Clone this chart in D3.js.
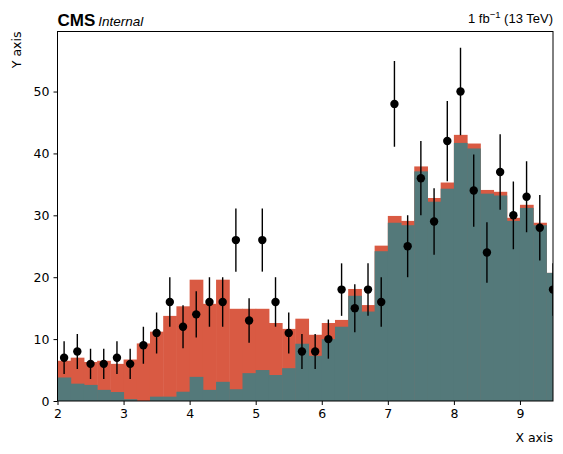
<!DOCTYPE html>
<html>
<head>
<meta charset="utf-8">
<script src="https://cdn.jsdelivr.net/npm/d3@7"></script>
<style>
  body { margin: 0; background: #fff; }
  text { font-family: "DejaVu Sans", sans-serif; }
</style>
</head>
<body>
<div class="chart"></div>
<script>
// bin lower edges (width 0.2)
var binEdges = [2.0, 2.2, 2.4, 2.6, 2.8, 3.0, 3.2, 3.4, 3.6, 3.8, 4.0, 4.2, 4.4, 4.6, 4.8, 5.0, 5.2, 5.4, 5.6, 5.8,
                6.0, 6.2, 6.4, 6.6, 6.8, 7.0, 7.2, 7.4, 7.6, 7.8, 8.0, 8.2, 8.4, 8.6, 8.8, 9.0, 9.2, 9.4];
var binWidth = 0.2;
// background 1 (teal, bottom of stack)
var bkgTeal = [3.8, 2.8, 2.6, 1.8, 1.45, 0.3, 0.0, 0.7, 0.7, 1.5, 3.9, 1.8, 3.1, 1.9, 4.5, 5.0, 4.2, 5.3, 9.25, 7.3,
               10.0, 12.0, 17.0, 14.45, 24.2, 28.8, 28.4, 37.1, 32.2, 34.3, 41.7, 40.8, 33.5, 33.2, 29.1, 31.2, 28.4, 20.7];
// background 2 (red, stacked on top)
var bkgRed = [2.7, 4.2, 3.7, 4.7, 4.55, 6.4, 9.3, 10.5, 13.05, 13.8, 15.7, 13.9, 16.5, 13.0, 10.4, 9.9, 8.4, 6.35, 4.05, 3.4,
              2.6, 1.1, 1.1, 1.05, 0.9, 1.1, 0.7, 0.8, 0.6, 1.0, 1.3, 0.8, 0.6, 0.6, 0.5, 0.5, 0.4, 0.0];
// observed data counts
var dataCounts = [7, 8, 6, 6, 7, 6, 9, 11, 16, 12, 14, 16, 16, 26, 13, 26, 16, 11, 8, 8,
                  10, 18, 15, 18, 16, 48, 25, 36, 29, 42, 50, 34, 24, 37, 30, 33, 28, 18];
var xTicks = [2, 3, 4, 5, 6, 7, 8, 9];
var yTicks = [0, 10, 20, 30, 40, 50];

function init() {
    var w = 563, h = 454;
    var left = 57.5, right = 553, top = 31.5, bottom = 401;

    var svg = d3.select(".chart").append("svg")
        .attr("width", w)
        .attr("height", h);

    var xScale = d3.scaleLinear().domain([2, 9.5]).range([left, right]);
    var yScale = d3.scaleLinear().domain([0, 59.7]).range([bottom, top]);

    svg.append("clipPath").attr("id", "clip")
        .append("rect")
        .attr("x", left).attr("y", top)
        .attr("width", right - left).attr("height", bottom - top);

    var plot = svg.append("g").attr("clip-path", "url(#clip)");

    var bins = binEdges.map(function(lo, i) {
        return { lo: lo, hi: lo + binWidth, teal: bkgTeal[i], red: bkgRed[i], n: dataCounts[i] };
    });

    // stacked histograms, red first (total) then teal over it
    plot.selectAll(".red").data(bins).enter().append("rect")
        .attr("class", "red")
        .attr("x", function(d) { return xScale(d.lo); })
        .attr("width", function(d) { return xScale(d.hi) - xScale(d.lo) + 0.5; })
        .attr("y", function(d) { return yScale(d.teal + d.red); })
        .attr("height", function(d) { return yScale(0) - yScale(d.teal + d.red); })
        .attr("fill", "#d95a43");

    plot.selectAll(".teal").data(bins).enter().append("rect")
        .attr("class", "teal")
        .attr("x", function(d) { return xScale(d.lo); })
        .attr("width", function(d) { return xScale(d.hi) - xScale(d.lo) + 0.5; })
        .attr("y", function(d) { return yScale(d.teal); })
        .attr("height", function(d) { return yScale(0) - yScale(d.teal); })
        .attr("fill", "#54797a");

    // data error bars (sqrt N)
    plot.selectAll(".err").data(bins).enter().append("line")
        .attr("class", "err")
        .attr("x1", function(d) { return xScale(d.lo + binWidth / 2); })
        .attr("x2", function(d) { return xScale(d.lo + binWidth / 2); })
        .attr("y1", function(d) { return yScale(d.n - Math.sqrt(d.n)); })
        .attr("y2", function(d) { return yScale(d.n + Math.sqrt(d.n)); })
        .attr("stroke", "#000")
        .attr("stroke-width", 1.4);

    plot.selectAll(".dot").data(bins).enter().append("circle")
        .attr("class", "dot")
        .attr("cx", function(d) { return xScale(d.lo + binWidth / 2); })
        .attr("cy", function(d) { return yScale(d.n); })
        .attr("r", 4.2)
        .attr("fill", "#000");

    // axes
    var xAxis = d3.axisBottom(xScale).tickValues(xTicks).tickSize(4).tickPadding(4).tickFormat(d3.format("d"));
    var yAxis = d3.axisLeft(yScale).tickValues(yTicks).tickSize(4).tickPadding(4).tickFormat(d3.format("d"));

    var gx = svg.append("g")
        .attr("transform", "translate(0," + bottom + ")")
        .call(xAxis);
    var gy = svg.append("g")
        .attr("transform", "translate(" + left + ",0)")
        .call(yAxis);
    [gx, gy].forEach(function(g) {
        g.select(".domain").remove();
        g.selectAll("text").style("font-size", "12.5px").attr("fill", "#000")
            .style("font-family", "'DejaVu Sans', sans-serif");
        g.selectAll("line").attr("stroke", "#000").attr("stroke-width", 1);
    });

    // frame
    svg.append("rect")
        .attr("x", left).attr("y", top)
        .attr("width", right - left).attr("height", bottom - top)
        .attr("fill", "none")
        .attr("stroke", "#000")
        .attr("stroke-width", 1);

    // axis labels
    svg.append("text")
        .attr("x", right)
        .attr("y", 442)
        .attr("text-anchor", "end")
        .style("font-size", "12.5px")
        .text("X axis");

    svg.append("text")
        .attr("transform", "translate(21," + top + ") rotate(-90)")
        .attr("text-anchor", "end")
        .style("font-size", "12.5px")
        .text("Y axis");

    // CMS label
    var cms = svg.append("text")
        .attr("x", left)
        .attr("y", 26)
        .style("font-family", "'Liberation Sans', Arial, sans-serif");
    cms.append("tspan")
        .style("font-weight", "bold")
        .style("font-size", "17px")
        .text("CMS");
    cms.append("tspan")
        .attr("dx", 3)
        .style("font-style", "italic")
        .style("font-size", "13.5px")
        .text("Internal");

    var lumi = svg.append("text")
        .attr("x", right)
        .attr("y", 23)
        .attr("text-anchor", "end")
        .style("font-family", "'Liberation Sans', Arial, sans-serif")
        .style("font-size", "13px");
    lumi.append("tspan").text("1 fb");
    lumi.append("tspan").attr("dy", -5).style("font-size", "9.5px").text("\u22121");
    lumi.append("tspan").attr("dy", 5).text(" (13 TeV)");
}

window.onload = init;
</script>
</body>
</html>
